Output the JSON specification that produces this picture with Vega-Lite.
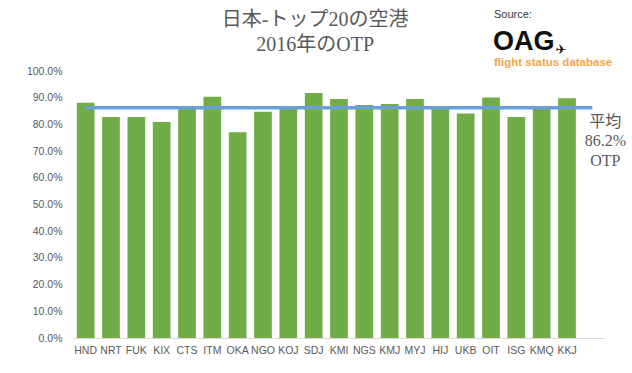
{
  "$schema": "https://vega.github.io/schema/vega-lite/v6.json",
  "width": 532,
  "height": 267,
  "autosize": {"type": "none"},
  "padding": {"left": 73, "top": 71, "right": 27, "bottom": 35},
  "background": "white",
  "config": {
    "view": {"stroke": null},
    "axisX": {
      "labelAngle": 0,
      "ticks": false,
      "tickSize": 0,
      "domainColor": "#d9d9d9",
      "domainWidth": 1,
      "labelPadding": 7,
      "labelFont": "Liberation Sans",
      "labelFontSize": 10.5,
      "labelColor": "#595959",
      "labelOverlap": false,
      "grid": false
    },
    "axisY": {
      "ticks": false,
      "tickSize": 0,
      "domain": false,
      "grid": false,
      "labelPadding": 11,
      "labelFont": "Liberation Sans",
      "labelFontSize": 10.5,
      "labelColor": "#595959",
      "labelOverlap": false,
      "labelBound": false
    }
  },
  "datasets": {
    "otp": [
      {"airport": "HND", "otp": 0.881, "avg": 0.862},
      {"airport": "NRT", "otp": 0.828, "avg": 0.862},
      {"airport": "FUK", "otp": 0.828, "avg": 0.862},
      {"airport": "KIX", "otp": 0.809, "avg": 0.862},
      {"airport": "CTS", "otp": 0.860, "avg": 0.862},
      {"airport": "ITM", "otp": 0.904, "avg": 0.862},
      {"airport": "OKA", "otp": 0.771, "avg": 0.862},
      {"airport": "NGO", "otp": 0.847, "avg": 0.862},
      {"airport": "KOJ", "otp": 0.859, "avg": 0.862},
      {"airport": "SDJ", "otp": 0.918, "avg": 0.862},
      {"airport": "KMI", "otp": 0.895, "avg": 0.862},
      {"airport": "NGS", "otp": 0.873, "avg": 0.862},
      {"airport": "KMJ", "otp": 0.876, "avg": 0.862},
      {"airport": "MYJ", "otp": 0.895, "avg": 0.862},
      {"airport": "HIJ", "otp": 0.860, "avg": 0.862},
      {"airport": "UKB", "otp": 0.841, "avg": 0.862},
      {"airport": "OIT", "otp": 0.901, "avg": 0.862},
      {"airport": "ISG", "otp": 0.828, "avg": 0.862},
      {"airport": "KMQ", "otp": 0.859, "avg": 0.862},
      {"airport": "KKJ", "otp": 0.898, "avg": 0.862},
      {"airport": "", "otp": null, "avg": 0.862}
    ],
    "note": [
      {"airport": "", "avg": 0.862, "label": "平均\n86.2%\nOTP"}
    ]
  },
  "layer": [
    {
      "data": {"name": "otp"},
      "mark": {"type": "bar", "color": "#70ad47"},
      "encoding": {
        "x": {
          "field": "airport",
          "type": "nominal",
          "title": null,
          "sort": null,
          "scale": {
            "domain": ["HND", "NRT", "FUK", "KIX", "CTS", "ITM", "OKA", "NGO", "KOJ", "SDJ", "KMI", "NGS", "KMJ", "MYJ", "HIJ", "UKB", "OIT", "ISG", "KMQ", "KKJ", ""],
            "paddingInner": 0.3,
            "paddingOuter": 0.15
          }
        },
        "y": {
          "field": "otp",
          "type": "quantitative",
          "title": null,
          "scale": {"domain": [0, 1], "nice": false},
          "axis": {"values": [0, 0.1, 0.2, 0.3, 0.4, 0.5, 0.6, 0.7, 0.8, 0.9, 1.0], "format": ".1%"}
        }
      }
    },
    {
      "data": {"name": "otp"},
      "mark": {"type": "line", "color": "#6a9fd8", "strokeWidth": 3.5, "strokeCap": "butt"},
      "encoding": {
        "x": {"field": "airport", "type": "nominal", "title": null, "sort": null},
        "y": {"field": "avg", "type": "quantitative", "title": null, "axis": {"values": [0, 0.1, 0.2, 0.3, 0.4, 0.5, 0.6, 0.7, 0.8, 0.9, 1.0], "format": ".1%"}}
      }
    },
    {
      "data": {"name": "note"},
      "mark": {
        "type": "text",
        "lineBreak": "\n",
        "font": "Liberation Serif, Noto Sans CJK JP",
        "fontSize": 16,
        "lineHeight": 19.5,
        "color": "#595959",
        "align": "center",
        "baseline": "top",
        "dx": 13,
        "dy": 6
      },
      "encoding": {
        "x": {"field": "airport", "type": "nominal", "title": null, "sort": null},
        "y": {"field": "avg", "type": "quantitative", "title": null, "axis": {"values": [0, 0.1, 0.2, 0.3, 0.4, 0.5, 0.6, 0.7, 0.8, 0.9, 1.0], "format": ".1%"}},
        "text": {"field": "label", "type": "nominal"}
      }
    },
    {
      "data": {"values": [{"t": "日本-トップ20の空港\n2016年のOTP"}]},
      "mark": {"type": "text", "lineBreak": "\n", "font": "Liberation Serif, Noto Sans CJK JP", "fontSize": 20, "lineHeight": 25, "color": "#595959", "align": "center", "baseline": "alphabetic", "dx": 1.5},
      "encoding": {
        "x": {"datum": "SDJ", "type": "nominal"},
        "y": {"datum": 1.1685, "type": "quantitative", "axis": {"values": [0, 0.1, 0.2, 0.3, 0.4, 0.5, 0.6, 0.7, 0.8, 0.9, 1.0], "format": ".1%"}},
        "text": {"field": "t", "type": "nominal"}
      }
    },
    {
      "data": {"values": [{"t": "Source:"}]},
      "mark": {"type": "text", "font": "Liberation Sans", "fontSize": 11, "color": "#333333", "align": "left", "baseline": "alphabetic", "dx": 3},
      "encoding": {
        "x": {"datum": "OIT", "type": "nominal"},
        "y": {"datum": 1.1985, "type": "quantitative", "axis": {"values": [0, 0.1, 0.2, 0.3, 0.4, 0.5, 0.6, 0.7, 0.8, 0.9, 1.0], "format": ".1%"}},
        "text": {"field": "t", "type": "nominal"}
      }
    },
    {
      "data": {"values": [{"t": "OAG"}]},
      "mark": {"type": "text", "font": "Liberation Sans", "fontWeight": "bold", "fontSize": 27, "color": "#111111", "align": "left", "baseline": "alphabetic", "dx": 2},
      "encoding": {
        "x": {"datum": "OIT", "type": "nominal"},
        "y": {"datum": 1.0787, "type": "quantitative", "axis": {"values": [0, 0.1, 0.2, 0.3, 0.4, 0.5, 0.6, 0.7, 0.8, 0.9, 1.0], "format": ".1%"}},
        "text": {"field": "t", "type": "nominal"}
      }
    },
    {
      "data": {"values": [{"t": "✈"}]},
      "mark": {"type": "text", "font": "DejaVu Sans", "fontSize": 13, "color": "#111111", "align": "center", "baseline": "middle", "dx": 70},
      "encoding": {
        "x": {"datum": "OIT", "type": "nominal"},
        "y": {"datum": 1.08, "type": "quantitative", "axis": {"values": [0, 0.1, 0.2, 0.3, 0.4, 0.5, 0.6, 0.7, 0.8, 0.9, 1.0], "format": ".1%"}},
        "text": {"field": "t", "type": "nominal"}
      }
    },
    {
      "data": {"values": [{"t": "flight status database"}]},
      "mark": {"type": "text", "font": "Liberation Sans", "fontWeight": "bold", "fontSize": 11.5, "color": "#f5a34b", "align": "left", "baseline": "alphabetic", "dx": 3},
      "encoding": {
        "x": {"datum": "OIT", "type": "nominal"},
        "y": {"datum": 1.0187, "type": "quantitative", "axis": {"values": [0, 0.1, 0.2, 0.3, 0.4, 0.5, 0.6, 0.7, 0.8, 0.9, 1.0], "format": ".1%"}},
        "text": {"field": "t", "type": "nominal"}
      }
    }
  ]
}
